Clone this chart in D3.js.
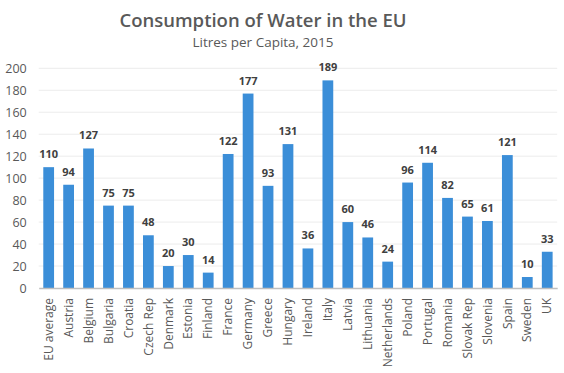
<!DOCTYPE html>
<html>
<head>
<meta charset="utf-8">
<script src="https://cdn.jsdelivr.net/npm/d3@7"></script>
<style>
  body { margin: 0; background: #fff; }
  svg text { font-family: "Open Sans", "Noto Sans", sans-serif; }
</style>
</head>
<body>
<svg id="chart"></svg>
<script>
const countries = ["EU average", "Austria", "Belgium", "Bulgaria", "Croatia", "Czech Rep",
  "Denmark", "Estonia", "Finland", "France", "Germany", "Greece", "Hungary", "Ireland",
  "Italy", "Latvia", "Lithuania", "Netherlands", "Poland", "Portugal", "Romania",
  "Slovak Rep", "Slovenia", "Spain", "Sweden", "UK"];
const litres = [110, 94, 127, 75, 75, 48, 20, 30, 14, 122, 177, 93, 131, 36,
  189, 60, 46, 24, 96, 114, 82, 65, 61, 121, 10, 33];
const yTicks = [0, 20, 40, 60, 80, 100, 120, 140, 160, 180, 200];

const width = 564, height = 373;
const margin = {top: 68.3, right: 6.8, bottom: 85, left: 38.7};

const svg = d3.select("#chart")
    .attr("width", width)
    .attr("height", height);

const xScale = d3.scaleBand()
    .domain(countries)
    .range([margin.left, width - margin.right])
    .paddingInner(0.46)
    .paddingOuter(0.23);

const yScale = d3.scaleLinear()
    .domain([0, 200])
    .range([height - margin.bottom, margin.top]);

// title
svg.append("text")
    .attr("x", 263).attr("y", 26.5)
    .attr("text-anchor", "middle")
    .attr("font-size", 18.5)
    .attr("font-weight", 600)
    .attr("fill", "#595959")
    .text("Consumption of Water in the EU");

svg.append("text")
    .attr("x", 263).attr("y", 47)
    .attr("text-anchor", "middle")
    .attr("font-size", 13.5)
    .attr("fill", "#595959")
    .text("Litres per Capita, 2015");

// gridlines
svg.append("g")
    .selectAll("line")
    .data(yTicks.slice(1))
    .enter().append("line")
    .attr("x1", margin.left)
    .attr("x2", width - margin.right)
    .attr("y1", d => yScale(d))
    .attr("y2", d => yScale(d))
    .attr("stroke", "#ececec")
    .attr("stroke-width", 1);

// y axis
const yAxis = svg.append("g")
    .attr("transform", "translate(" + margin.left + ",0)")
    .call(d3.axisLeft(yScale).tickValues(yTicks).tickSize(0).tickPadding(12));
yAxis.select(".domain").remove();
yAxis.selectAll("text")
    .attr("font-size", 12.5)
    .attr("fill", "#595959")
    .style("font-family", "\"Open Sans\", sans-serif");

// bars
svg.append("g")
    .selectAll("rect")
    .data(litres)
    .enter().append("rect")
    .attr("x", (d, i) => xScale(countries[i]))
    .attr("y", d => yScale(d))
    .attr("width", xScale.bandwidth())
    .attr("height", d => yScale(0) - yScale(d))
    .attr("fill", "#3b8ed8");

// value labels
svg.append("g")
    .selectAll("text")
    .data(litres)
    .enter().append("text")
    .attr("x", (d, i) => xScale(countries[i]) + xScale.bandwidth() / 2)
    .attr("y", d => yScale(d) - 9)
    .attr("text-anchor", "middle")
    .attr("font-size", 11)
    .attr("font-weight", "bold")
    .attr("fill", "#404040")
    .text(d => d);

// x axis
const xAxis = svg.append("g")
    .attr("transform", "translate(0," + yScale(0) + ")")
    .call(d3.axisBottom(xScale).tickSize(0).tickSizeOuter(0).tickPadding(0));
xAxis.select(".domain")
    .attr("stroke", "#bfbfbf")
    .attr("stroke-width", 1.5);
xAxis.selectAll("text")
    .attr("font-size", 12)
    .attr("fill", "#595959")
    .attr("text-anchor", "end")
    .attr("dy", "0.35em")
    .attr("transform", "translate(0,10) rotate(-90)")
    .attr("x", 0).attr("y", 0)
    .style("font-family", "\"Open Sans\", sans-serif");
</script>
</body>
</html>
